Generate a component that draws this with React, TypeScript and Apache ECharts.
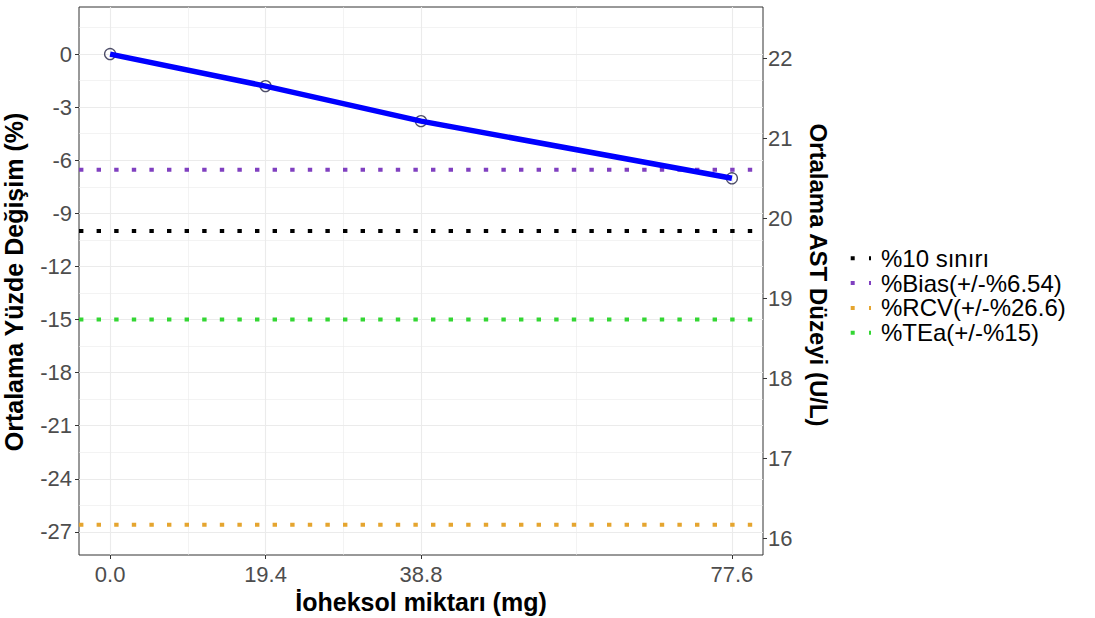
import React, { useEffect, useRef } from "react";
import * as echarts from "echarts";

// ---- data ----
const doseMg = [0, 19.4, 38.8, 77.6];
const pctChange = [0, -1.81, -3.79, -7.02];

const xTickValues = [0, 19.4, 38.8, 77.6];
const xMinorGrid = [9.7, 29.1, 58.2];
const yTickValues = [0, -3, -6, -9, -12, -15, -18, -21, -24, -27];
const yMinorGrid = [1.5, -1.5, -4.5, -7.5, -10.5, -13.5, -16.5, -19.5, -22.5, -25.5];
const astTickValues = [16, 17, 18, 19, 20, 21, 22];

const limitNames = ["%10 sınırı", "%Bias(+/-%6.54)", "%RCV(+/-%26.6)", "%TEa(+/-%15)"];
const limitValues = [-10, -6.54, -26.6, -15];
const limitColors = ["#000000", "#8040C0", "#E5A52F", "#33D633"];

const xLimits = [-3.88, 81.48];
const yLimits = [-28.305, 2.66];
const astLimits = [15.7875, 22.6375];

const FONT = "'Liberation Sans', Arial, Helvetica, sans-serif";

export default function App() {
  const ref = useRef<HTMLDivElement>(null);

  useEffect(() => {
    if (!ref.current) return;
    const chart = echarts.init(ref.current, undefined, { renderer: "svg" });

    const limitSeries = limitNames.map((name, i) => ({
      name,
      type: "line",
      xAxisIndex: 0,
      yAxisIndex: 0,
      data: [
        [xLimits[0], limitValues[i]],
        [xLimits[1], limitValues[i]],
      ],
      symbol: "none",
      silent: true,
      z: 2,
      itemStyle: { color: limitColors[i] },
      lineStyle: { color: limitColors[i], width: 4, type: [4.4, 13.2], cap: "butt" },
    }));

    const pts = doseMg.map((x, i) => [x, pctChange[i]]);

    const tickStyle = { color: "#333333", width: 1 };
    const labelBase = { fontFamily: FONT, fontSize: 22, color: "#4D4D4D" };

    const option: any = {
      animation: false,
      backgroundColor: "#ffffff",
      textStyle: { fontFamily: FONT },
      grid: {
        left: 79,
        right: 332,
        top: 7,
        bottom: 63,
        show: true,
        borderColor: "#333333",
        borderWidth: 1,
        backgroundColor: "#ffffff",
        containLabel: false,
      },
      legend: {
        orient: "vertical",
        left: 850.7,
        top: 245.9,
        padding: 0,
        itemGap: 0,
        itemWidth: 20.3,
        itemHeight: 4,
        data: limitNames.map((n) => ({
          name: n,
          icon: "path://M0,0h4v4h-4z M18.3,0h2v4h-2z",
        })),
        textStyle: {
          fontFamily: FONT,
          fontSize: 24,
          color: "#000000",
          lineHeight: 24.8,
          padding: [0, 0, 0, 5],
        },
        selectedMode: false,
      },
      xAxis: [
        {
          type: "value",
          min: xLimits[0],
          max: xLimits[1],
          position: "bottom",
          axisLine: { show: false, onZero: false },
          axisTick: { show: true, customValues: xTickValues, length: 4, lineStyle: tickStyle },
          axisLabel: {
            ...labelBase,
            customValues: xTickValues,
            formatter: (v: number) => v.toFixed(1),
            margin: 8,
          },
          splitLine: { show: true, lineStyle: { color: "#EBEBEB", width: 1.1 } },
        },
        {
          type: "value",
          min: xLimits[0],
          max: xLimits[1],
          position: "bottom",
          axisLine: { show: false, onZero: false },
          axisTick: { show: false, customValues: xMinorGrid },
          axisLabel: { show: false },
          splitLine: { show: true, lineStyle: { color: "#EBEBEB", width: 0.6 } },
        },
      ],
      yAxis: [
        {
          type: "value",
          min: yLimits[0],
          max: yLimits[1],
          position: "left",
          axisLine: { show: false, onZero: false },
          axisTick: { show: true, customValues: yTickValues, length: 4, lineStyle: tickStyle },
          axisLabel: {
            ...labelBase,
            customValues: yTickValues,
            formatter: (v: number) => String(v),
            margin: 7,
          },
          splitLine: { show: true, lineStyle: { color: "#EBEBEB", width: 1.1 } },
        },
        {
          type: "value",
          min: yLimits[0],
          max: yLimits[1],
          position: "left",
          axisLine: { show: false, onZero: false },
          axisTick: { show: false, customValues: yMinorGrid },
          axisLabel: { show: false },
          splitLine: { show: true, lineStyle: { color: "#EBEBEB", width: 0.6 } },
        },
        {
          type: "value",
          min: astLimits[0],
          max: astLimits[1],
          position: "right",
          axisLine: { show: false, onZero: false },
          axisTick: { show: true, customValues: astTickValues, length: 4, lineStyle: tickStyle },
          axisLabel: {
            ...labelBase,
            customValues: astTickValues,
            formatter: (v: number) => String(v),
            margin: 5,
          },
          splitLine: { show: false },
        },
      ],
      graphic: [
        {
          type: "text",
          x: 421,
          y: 602,
          style: {
            text: "İoheksol miktarı (mg)",
            fontFamily: FONT,
            fontWeight: "bold",
            fontSize: 25,
            fill: "#000000",
            textAlign: "center",
            textVerticalAlign: "middle",
          },
        },
        {
          type: "text",
          x: 13.5,
          y: 282,
          rotation: Math.PI / 2,
          style: {
            text: "Ortalama Yüzde Değişim (%)",
            fontFamily: FONT,
            fontWeight: "bold",
            fontSize: 25,
            fill: "#000000",
            textAlign: "center",
            textVerticalAlign: "middle",
          },
        },
        {
          type: "text",
          x: 818.5,
          y: 275,
          rotation: -Math.PI / 2,
          style: {
            text: "Ortalama AST Düzeyi (U/L)",
            fontFamily: FONT,
            fontWeight: "bold",
            fontSize: 24,
            fill: "#000000",
            textAlign: "center",
            textVerticalAlign: "middle",
          },
        },
      ],
      series: [
        ...limitSeries,
        {
          name: "points",
          type: "scatter",
          xAxisIndex: 0,
          yAxisIndex: 0,
          data: pts,
          symbol: "circle",
          symbolSize: 11,
          silent: true,
          z: 3,
          itemStyle: { color: "rgba(0,0,0,0)", borderColor: "#222244", borderWidth: 1.3 },
        },
        {
          name: "line",
          type: "line",
          xAxisIndex: 0,
          yAxisIndex: 0,
          data: pts,
          symbol: "none",
          silent: true,
          z: 4,
          lineStyle: { color: "#0000FF", width: 5.5 },
        },
      ],
    };

    chart.setOption(option);
    return () => chart.dispose();
  }, []);

  return (
    <div
      ref={ref}
      style={{ position: "fixed", left: 0, top: 0, width: 1095, height: 618, background: "#fff" }}
    />
  );
}
